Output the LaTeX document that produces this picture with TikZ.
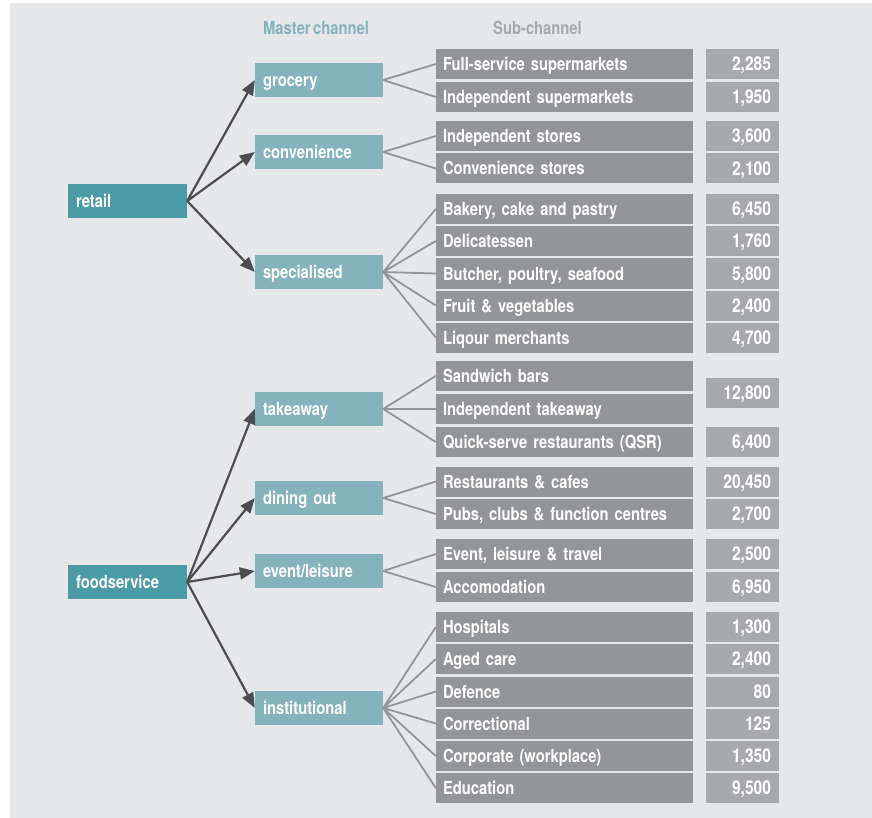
\documentclass[tikz,border=0pt]{standalone}
\usepackage{fontspec}
\setmainfont{TeX Gyre Heros}[FakeStretch=0.82, WordSpace=0.6]
\usepackage{tikz}
\usetikzlibrary{arrows.meta}

\definecolor{panel}{HTML}{E6E7E8}
\definecolor{topteal}{HTML}{4B9BA7}
\definecolor{masterteal}{HTML}{84B3BD}
\definecolor{subgray}{HTML}{939598}
\definecolor{numgray}{HTML}{A7A9AC}
\definecolor{arrowgray}{HTML}{4D4D4F}

\begin{document}
\begin{tikzpicture}[x=1pt, y=-1pt,
		topbox/.style={fill=topteal, text=white, minimum width=119pt, minimum height=34pt, inner xsep=8pt, text width=103pt, text height=13pt, text depth=0pt, align=left, font=\fontsize{18}{20}\selectfont\bfseries},
		masterbox/.style={fill=masterteal, text=white, minimum width=128pt, minimum height=34pt, inner xsep=8pt, text width=112pt, text height=13pt, text depth=0pt, align=left, font=\fontsize{18}{20}\selectfont\bfseries},
		subbox/.style={fill=subgray, text=white, minimum width=257pt, minimum height=30pt, inner xsep=7pt, text width=243pt, text height=13pt, text depth=0pt, align=left, font=\fontsize{18}{20}\selectfont\bfseries},
		numbox/.style={fill=numgray, text=white, minimum width=73pt, minimum height=30pt, inner xsep=8pt, text width=57pt, text height=13.5pt, text depth=0pt, align=right, font=\fontsize{19}{21}\selectfont\bfseries},
		heading/.style={anchor=west, inner sep=0pt, text height=13pt, text depth=0pt, font=\fontsize{18}{20}\selectfont\bfseries},
		feed/.style={draw=arrowgray, line width=2.2pt, -{Triangle[length=15pt, width=12pt]}},
		link/.style={draw=subgray, line width=1.8pt}]
	\useasboundingbox (0,0) rectangle (872,818);
	\fill[panel] (10,3) rectangle (872,818);

	% headings
	\node[heading, text=masterteal] (hmaster) at (263,28) {Master channel};
	\node[heading, text=numgray] (hsub) at (493,28) {Sub-channel};

	% top level
	\node[topbox] (retail) at (127.5,201) {retail};
	\node[topbox] (food) at (127.5,582) {foodservice};

	% master channels
	\node[masterbox] (grocery) at (319,80) {grocery};
	\node[masterbox] (conv) at (319,152) {convenience};
	\node[masterbox] (spec) at (319,272) {specialised};
	\node[masterbox] (take) at (319,409) {takeaway};
	\node[masterbox] (dine) at (319,498) {dining out};
	\node[masterbox] (event) at (319,571) {event/leisure};
	\node[masterbox] (inst) at (319,708) {institutional};

	% sub-channels
	\node[subbox] (s1) at (564.5,64) {Full-service supermarkets};
	\node[subbox] (s2) at (564.5,97) {Independent supermarkets};
	\node[subbox] (s3) at (564.5,136) {Independent stores};
	\node[subbox] (s4) at (564.5,168.5) {Convenience stores};
	\node[subbox] (s5) at (564.5,209) {Bakery, cake and pastry};
	\node[subbox] (s6) at (564.5,241) {Delicatessen};
	\node[subbox] (s7) at (564.5,273.5) {Butcher, poultry, seafood};
	\node[subbox] (s8) at (564.5,305.5) {Fruit \& vegetables};
	\node[subbox] (s9) at (564.5,337.5) {Liqour merchants};
	\node[subbox] (s10) at (564.5,376) {Sandwich bars};
	\node[subbox] (s11) at (564.5,409) {Independent takeaway};
	\node[subbox] (s12) at (564.5,442) {Quick-serve restaurants (QSR)};
	\node[subbox] (s13) at (564.5,481.5) {Restaurants \& cafes};
	\node[subbox] (s14) at (564.5,514) {Pubs, clubs \& function centres};
	\node[subbox] (s15) at (564.5,554) {Event, leisure \& travel};
	\node[subbox] (s16) at (564.5,587) {Accomodation};
	\node[subbox] (s17) at (564.5,627) {Hospitals};
	\node[subbox] (s18) at (564.5,659) {Aged care};
	\node[subbox] (s19) at (564.5,691.5) {Defence};
	\node[subbox] (s20) at (564.5,723.5) {Correctional};
	\node[subbox] (s21) at (564.5,756) {Corporate (workplace)};
	\node[subbox] (s22) at (564.5,788) {Education};

	% outlet numbers
	\node[numbox] (n1) at (742.5,64) {2,285};
	\node[numbox] (n2) at (742.5,97) {1,950};
	\node[numbox] (n3) at (742.5,136) {3,600};
	\node[numbox] (n4) at (742.5,168.5) {2,100};
	\node[numbox] (n5) at (742.5,209) {6,450};
	\node[numbox] (n6) at (742.5,241) {1,760};
	\node[numbox] (n7) at (742.5,273.5) {5,800};
	\node[numbox] (n8) at (742.5,305.5) {2,400};
	\node[numbox] (n9) at (742.5,337.5) {4,700};
	\node[numbox] (n10) at (742.5,392.5) {12,800};
	\node[numbox] (n12) at (742.5,442) {6,400};
	\node[numbox] (n13) at (742.5,481.5) {20,450};
	\node[numbox] (n14) at (742.5,514) {2,700};
	\node[numbox] (n15) at (742.5,554) {2,500};
	\node[numbox] (n16) at (742.5,587) {6,950};
	\node[numbox] (n17) at (742.5,627) {1,300};
	\node[numbox] (n18) at (742.5,659) {2,400};
	\node[numbox] (n19) at (742.5,691.5) {80};
	\node[numbox] (n20) at (742.5,723.5) {125};
	\node[numbox] (n21) at (742.5,756) {1,350};
	\node[numbox] (n22) at (742.5,788) {9,500};

	% arrows to master channels
	\draw[feed] (retail.east) -- (grocery.west);
	\draw[feed] (retail.east) -- (conv.west);
	\draw[feed] (retail.east) -- (spec.west);
	\draw[feed] (food.east) -- (take.west);
	\draw[feed] (food.east) -- (dine.west);
	\draw[feed] (food.east) -- (event.west);
	\draw[feed] (food.east) -- (inst.west);

	% links to sub-channels
	\draw[link] (grocery.east) -- (s1.west) (grocery.east) -- (s2.west);
	\draw[link] (conv.east) -- (s3.west) (conv.east) -- (s4.west);
	\draw[link] (spec.east) -- (s5.west) (spec.east) -- (s6.west) (spec.east) -- (s7.west)
		(spec.east) -- (s8.west) (spec.east) -- (s9.west);
	\draw[link] (take.east) -- (s10.west) (take.east) -- (s11.west) (take.east) -- (s12.west);
	\draw[link] (dine.east) -- (s13.west) (dine.east) -- (s14.west);
	\draw[link] (event.east) -- (s15.west) (event.east) -- (s16.west);
	\draw[link] (inst.east) -- (s17.west) (inst.east) -- (s18.west) (inst.east) -- (s19.west)
		(inst.east) -- (s20.west) (inst.east) -- (s21.west) (inst.east) -- (s22.west);
\end{tikzpicture}
\end{document}
